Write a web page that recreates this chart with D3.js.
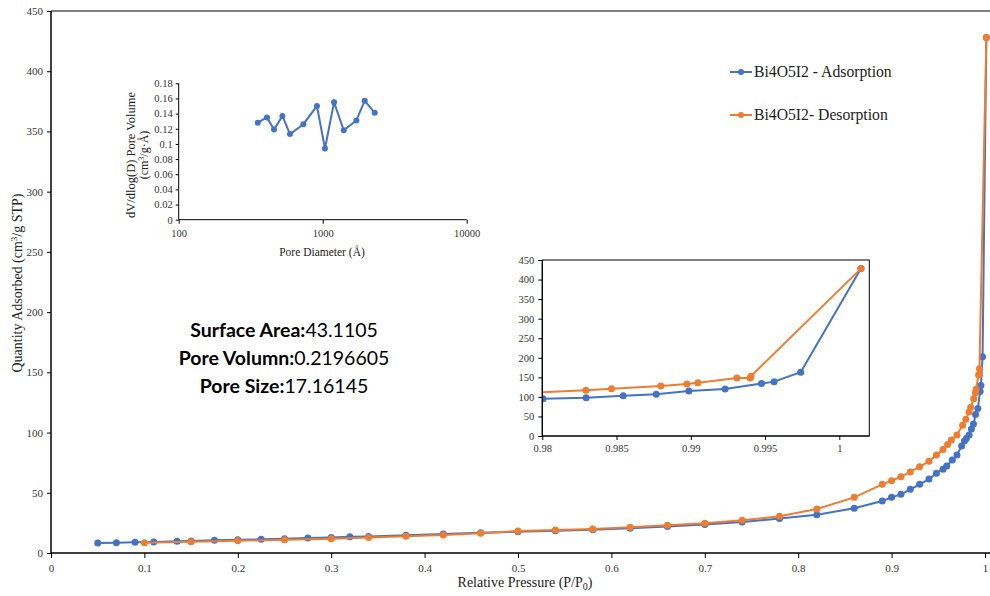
<!DOCTYPE html>
<html>
<head>
<meta charset="utf-8">
<script src="https://cdn.jsdelivr.net/npm/d3@7"></script>
<style>
  body { margin: 0; background: #fff; }
  text { font-family: "Liberation Serif", "Times New Roman", serif; }
</style>
</head>
<body>
<div id="chart"></div>
<script>
// isotherm data
const adsP = [0.05, 0.07, 0.09, 0.11, 0.135, 0.15, 0.175, 0.2, 0.225, 0.25, 0.275, 0.3, 0.32, 0.34, 0.38, 0.42, 0.46,
  0.5, 0.54, 0.58, 0.62, 0.66, 0.7, 0.74, 0.78, 0.82, 0.86, 0.89, 0.9, 0.91, 0.92, 0.93, 0.94, 0.948, 0.955, 0.959,
  0.965, 0.97, 0.975, 0.978, 0.98005, 0.98295, 0.98545, 0.98767, 0.98987, 0.99231, 0.99476, 0.99561, 0.9974, 1.00146];
const adsQ = [8.3, 8.6, 8.9, 9.2, 9.7, 10.0, 10.5, 11.0, 11.4, 11.9, 12.4, 12.9, 13.4, 13.8, 14.8, 15.8, 16.8,
  17.6, 18.5, 19.4, 20.6, 22.0, 23.6, 25.8, 28.6, 31.8, 37.1, 43.2, 46.2, 48.7, 52.9, 57.0, 61.4, 66.2, 69.5, 72.2,
  77.2, 81.4, 88.8, 93.0, 95, 98, 103, 107, 115, 120, 134, 139, 163, 428];

const desP = [0.1, 0.15, 0.2, 0.25, 0.3, 0.34, 0.38, 0.42, 0.46, 0.5, 0.54, 0.58, 0.62, 0.66, 0.7, 0.74, 0.78,
  0.82, 0.86, 0.89, 0.9, 0.91, 0.92, 0.93, 0.94, 0.948, 0.955, 0.96, 0.964, 0.97, 0.976, 0.9795, 0.98294,
  0.98466, 0.98798, 0.98973, 0.99048, 0.9931, 0.9940, 0.99405, 1.00146];
const desQ = [8.6, 9.4, 10.2, 11.0, 11.9, 12.8, 13.9, 15.0, 16.4, 18.3, 19.0, 20.0, 21.3, 23.0, 24.6, 27.1, 30.5,
  36.5, 46.2, 57.0, 60.0, 63.4, 67.3, 71.7, 76.1, 81.4, 86.0, 90.0, 93.8, 98.0, 106, 111, 117,
  121, 128, 133, 136, 148, 148, 153, 428];

// pore size distribution (small inset)
const poreD = [354, 410, 459, 525, 593, 734, 912, 1037, 1199, 1400, 1713, 1958, 2297];
const poreV = [0.128, 0.135, 0.119, 0.137, 0.113, 0.126, 0.150, 0.094, 0.155, 0.118, 0.131, 0.157, 0.141];

const mainXTicks = [0, 0.1, 0.2, 0.3, 0.4, 0.5, 0.6, 0.7, 0.8, 0.9, 1];
const mainYTicks = [0, 50, 100, 150, 200, 250, 300, 350, 400, 450];
const zoomXTicks = [0.98, 0.985, 0.99, 0.995, 1];
const zoomYTicks = [0, 50, 100, 150, 200, 250, 300, 350, 400, 450];
const psdXTicks = [100, 1000, 10000];
const psdYTicks = [0, 0.02, 0.04, 0.06, 0.08, 0.1, 0.12, 0.14, 0.16, 0.18];

const summaryLabels = ["Surface Area:", "Pore Volumn:", "Pore Size:"];
const summaryValues = ["43.1105", "0.2196605", "17.16145"];

const BLUE = "#4472C4", ORANGE = "#ED7D31";
const SERIF = "'Liberation Serif', 'Times New Roman', serif";

const svg = d3.select("#chart").append("svg")
  .attr("width", 990)
  .attr("height", 596);

const ads = adsP.map((p, i) => ({p: p, q: adsQ[i]}));
const des = desP.map((p, i) => ({p: p, q: desQ[i]}));

function styleAxis(g, size) {
  g.attr("font-family", null).attr("font-size", null);
  g.selectAll("text")
    .style("font-family", SERIF)
    .style("font-size", size + "px")
    .attr("fill", "#333");
  g.selectAll("line").attr("stroke", "#000");
  g.select(".domain").remove();
}

function drawSeries(g, data, x, y, color, r) {
  const line = d3.line().x(d => x(d.p)).y(d => y(d.q));
  g.append("path")
    .datum(data)
    .attr("fill", "none")
    .attr("stroke", color)
    .attr("stroke-width", 2)
    .attr("d", line);
  g.selectAll(null)
    .data(data)
    .enter()
    .append("circle")
      .attr("cx", d => x(d.p))
      .attr("cy", d => y(d.q))
      .attr("r", r)
      .attr("fill", color);
}

// ---- main chart
const x = d3.scaleLinear().domain([0, 1]).range([51, 985]);
const y = d3.scaleLinear().domain([0, 450]).range([553, 11]);

const gx = svg.append("g")
  .attr("transform", "translate(0,553)")
  .call(d3.axisBottom(x).tickValues(mainXTicks).tickSize(5).tickPadding(6).tickFormat(d3.format("")));
styleAxis(gx, 11);

const gy = svg.append("g")
  .attr("transform", "translate(51,0)")
  .call(d3.axisLeft(y).tickValues(mainYTicks).tickSize(4).tickPadding(4));
styleAxis(gy, 11);

// frame
svg.append("line").attr("x1", 51).attr("x2", 990).attr("y1", 553).attr("y2", 553).attr("stroke", "#000").attr("stroke-width", 1.5);
svg.append("line").attr("x1", 51).attr("x2", 51).attr("y1", 11).attr("y2", 553).attr("stroke", "#000").attr("stroke-width", 1.5);
svg.append("line").attr("x1", 51).attr("x2", 990).attr("y1", 11).attr("y2", 11).attr("stroke", "#000").attr("stroke-width", 1);

drawSeries(svg.append("g"), ads, x, y, BLUE, 3.5);
drawSeries(svg.append("g"), des, x, y, ORANGE, 3.5);

// axis titles
const xt = svg.append("text")
  .attr("x", 525).attr("y", 587)
  .attr("text-anchor", "middle")
  .style("font-size", "14px")
  .attr("fill", "#222");
xt.append("tspan").text("Relative Pressure (P/P");
xt.append("tspan").attr("dy", 3).style("font-size", "10px").text("0");
xt.append("tspan").attr("dy", -3).text(")");

const yt = svg.append("text")
  .attr("transform", "translate(22,283)rotate(-90)")
  .attr("text-anchor", "middle")
  .style("font-size", "14px")
  .attr("fill", "#222");
yt.append("tspan").text("Quantity Adsorbed (cm");
yt.append("tspan").attr("dy", -5).style("font-size", "9px").text("3");
yt.append("tspan").attr("dy", 5).text("/g STP)");

// legend
const legend = svg.append("g");
[["Bi4O5I2 - Adsorption", BLUE, 72], ["Bi4O5I2- Desorption", ORANGE, 115]].forEach(l => {
  legend.append("line").attr("x1", 730).attr("x2", 752).attr("y1", l[2]).attr("y2", l[2])
    .attr("stroke", l[1]).attr("stroke-width", 2);
  legend.append("circle").attr("cx", 741).attr("cy", l[2]).attr("r", 3).attr("fill", l[1]);
  legend.append("text").attr("x", 754).attr("y", l[2] + 5)
    .style("font-size", "15.7px").attr("fill", "#222").text(l[0]);
});

// summary text
const sumBase = [337, 365, 393];
summaryLabels.forEach((lab, i) => {
  const t = svg.append("text")
    .attr("x", 284).attr("y", sumBase[i])
    .attr("text-anchor", "middle")
    .style("font-family", "Lato, 'Open Sans', sans-serif")
    .style("font-size", "19.5px")
    .attr("fill", "#000");
  t.append("tspan").style("font-weight", "bold").text(lab);
  t.append("tspan").text(summaryValues[i]);
});

// ---- zoom inset (right)
const zx = d3.scaleLinear().domain([0.98, 1]).range([542.3, 839.3]);
const zy = d3.scaleLinear().domain([0, 450]).range([436, 260]);
const zRight = 869.3;

svg.append("rect")
  .attr("x", 542.3).attr("y", 260).attr("width", zRight - 542.3).attr("height", 176)
  .attr("fill", "#fff").attr("stroke", "#000").attr("stroke-width", 1);

svg.append("clipPath").attr("id", "zclip")
  .append("rect").attr("x", 542.3).attr("y", 255).attr("width", zRight - 542.3 + 6).attr("height", 186);

const zg = svg.append("g").attr("clip-path", "url(#zclip)");
drawSeries(zg.append("g"), ads.filter(d => d.p >= 0.979), zx, zy, BLUE, 3.5);
drawSeries(zg.append("g"), des.filter(d => d.p >= 0.979), zx, zy, ORANGE, 3.5);

const zgx = svg.append("g")
  .attr("transform", "translate(0,436)")
  .call(d3.axisBottom(zx).tickValues(zoomXTicks).tickSize(4).tickPadding(5).tickFormat(d3.format("")));
styleAxis(zgx, 10.5);
const zgy = svg.append("g")
  .attr("transform", "translate(542.3,0)")
  .call(d3.axisLeft(zy).tickValues(zoomYTicks).tickSize(4).tickPadding(4));
styleAxis(zgy, 10.5);
svg.append("line").attr("x1", 542.3).attr("x2", zRight).attr("y1", 436).attr("y2", 436).attr("stroke", "#000").attr("stroke-width", 1.2);
svg.append("line").attr("x1", 542.3).attr("x2", 542.3).attr("y1", 260).attr("y2", 436).attr("stroke", "#000").attr("stroke-width", 1.2);

// ---- pore size inset (top left)
const px = d3.scaleLog().domain([100, 10000]).range([178.7, 466.7]);
const py = d3.scaleLinear().domain([0, 0.18]).range([219.7, 83.3]);

const pgx = svg.append("g")
  .attr("transform", "translate(0,219.7)")
  .call(d3.axisBottom(px).tickValues(psdXTicks).tickSize(4).tickPadding(6).tickFormat(d3.format("")));
styleAxis(pgx, 10.5);
const pgy = svg.append("g")
  .attr("transform", "translate(178.7,0)")
  .call(d3.axisLeft(py).tickValues(psdYTicks).tickSize(3).tickPadding(3).tickFormat(d => d3.format("")(+d.toFixed(2))));
styleAxis(pgy, 10.5);
svg.append("line").attr("x1", 178.7).attr("x2", 466.7).attr("y1", 219.7).attr("y2", 219.7).attr("stroke", "#000");
svg.append("line").attr("x1", 178.7).attr("x2", 178.7).attr("y1", 83.3).attr("y2", 219.7).attr("stroke", "#000");

const psd = poreD.map((d, i) => ({p: d, q: poreV[i]}));
drawSeries(svg.append("g"), psd, px, py, BLUE, 3);

svg.append("text")
  .attr("x", 322).attr("y", 256)
  .attr("text-anchor", "middle")
  .style("font-size", "11.5px").attr("fill", "#222")
  .text("Pore Diameter (Å)");

svg.append("text")
  .attr("transform", "translate(135,155)rotate(-90)")
  .attr("text-anchor", "middle")
  .style("font-size", "12.5px").attr("fill", "#222")
  .text("dV/dlog(D) Pore Volume");
const pyt2 = svg.append("text")
  .attr("transform", "translate(148,155)rotate(-90)")
  .attr("text-anchor", "middle")
  .style("font-size", "12px").attr("fill", "#222");
pyt2.append("tspan").text("(cm");
pyt2.append("tspan").attr("dy", -4).style("font-size", "8px").text("3");
pyt2.append("tspan").attr("dy", 4).text("/g·Å)");
</script>
</body>
</html>
